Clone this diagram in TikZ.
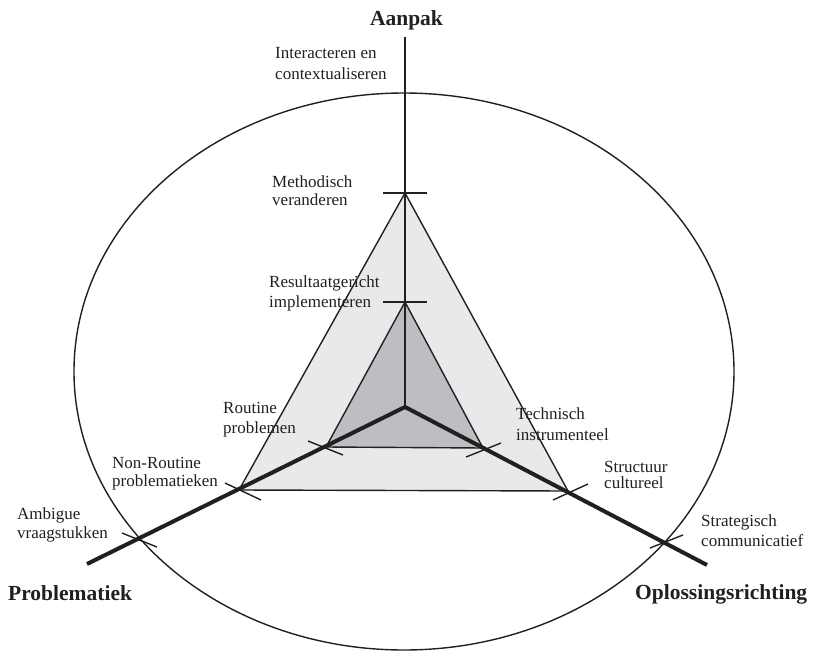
\documentclass[tikz,border=0pt]{standalone}
\usepackage{fontspec}
\setmainfont{Liberation Serif}
\definecolor{ink}{HTML}{231F20}
\definecolor{outerfill}{HTML}{E9E9EB}
\definecolor{innerfill}{HTML}{BDBEC1}
\begin{document}
\begin{tikzpicture}[x=1pt,y=-1pt,
  thin line/.style={draw=ink, line width=1.4pt},
  thick axis/.style={draw=ink, line width=4pt},
  % labels are placed by the baseline of their last line
  lbl/.style={anchor=base west, align=left, inner sep=0pt, text=ink,
              font=\fontsize{17}{20}\selectfont},
  title/.style={anchor=base west, inner sep=0pt, text=ink,
                font=\fontsize{21.5}{24}\selectfont\bfseries}]
\useasboundingbox (0,0) rectangle (817,653);

% axis geometry
\coordinate (c)   at (405,407);
\coordinate (top) at (405,37);
\coordinate (lend) at (87,564);
\coordinate (rend) at (707,565);
% outer and inner triangle vertices
\coordinate (ot) at (405,193);
\coordinate (ol) at (239,490);
\coordinate (or) at (568,491);
\coordinate (it) at (405,302);
\coordinate (il) at (326,447);
\coordinate (ir) at (483,448);
% crossings of the axes with the ellipse
\coordinate (el) at (139,540);
\coordinate (er) at (665,542);

% surrounding ellipse
\draw[thin line] (404,371.5) ellipse [x radius=330, y radius=278.5];

% triangle fills
\fill[outerfill] (ot) -- (ol) -- (or) -- cycle;
\fill[innerfill] (it) -- (il) -- (ir) -- cycle;

% scale labels
\node[lbl] (lint) at (275,79) {Interacteren en\\[0.5pt]contextualiseren};
\node[lbl] (lmet) at (272,205) {Methodisch\\[-2pt]veranderen};
\node[lbl] (lres) at (269,307) {Resultaatgericht\\implementeren};
\node[lbl] (lrou) at (223,433) {Routine\\problemen};
\node[lbl] (ltec) at (516,440) {Technisch\\[1pt]instrumenteel};
\node[lbl] (lnon) at (112,486) {Non-Routine\\[-2pt]problematieken};
\node[lbl] (lstr) at (604,488) {Structuur\\[-4pt]cultureel};
\node[lbl] (lsta) at (701,546) {Strategisch\\communicatief};
\node[lbl] (lamb) at (17,538) {Ambigue\\[-1pt]vraagstukken};

% axis titles
\node[title, anchor=base] (taan) at (406.5,25) {Aanpak};
\node[title] (tpro) at (8,600) {Problematiek};
\node[title] (topl) at (635,599) {Oplossingsrichting};

% triangle outlines
\draw[thin line, line join=miter] (ot) -- (ol) -- (or) -- cycle;
\draw[thin line, line join=miter] (it) -- (il) -- (ir) -- cycle;

% axes
\draw[thin line] (c) -- (top);
\draw[thick axis] (c) -- (lend);
\draw[thick axis] (c) -- (rend);

% tick marks
\draw[thin line] ([shift={(-22,0)}]ot) -- ([shift={(22,0)}]ot);
\draw[thin line] ([shift={(-22,0)}]it) -- ([shift={(22,0)}]it);
\draw[thin line] ([shift={(-18,-6)}]il) -- ([shift={(17,8)}]il);
\draw[thin line] ([shift={(-14,-7)}]ol) -- ([shift={(22,10)}]ol);
\draw[thin line] ([shift={(-17,-7)}]el) -- ([shift={(18,7)}]el);
\draw[thin line] ([shift={(-17,9)}]ir) -- ([shift={(18,-5)}]ir);
\draw[thin line] ([shift={(-15,9)}]or) -- ([shift={(20,-7)}]or);
\draw[thin line] ([shift={(-15,6)}]er) -- ([shift={(18,-7)}]er);
\end{tikzpicture}
\end{document}
